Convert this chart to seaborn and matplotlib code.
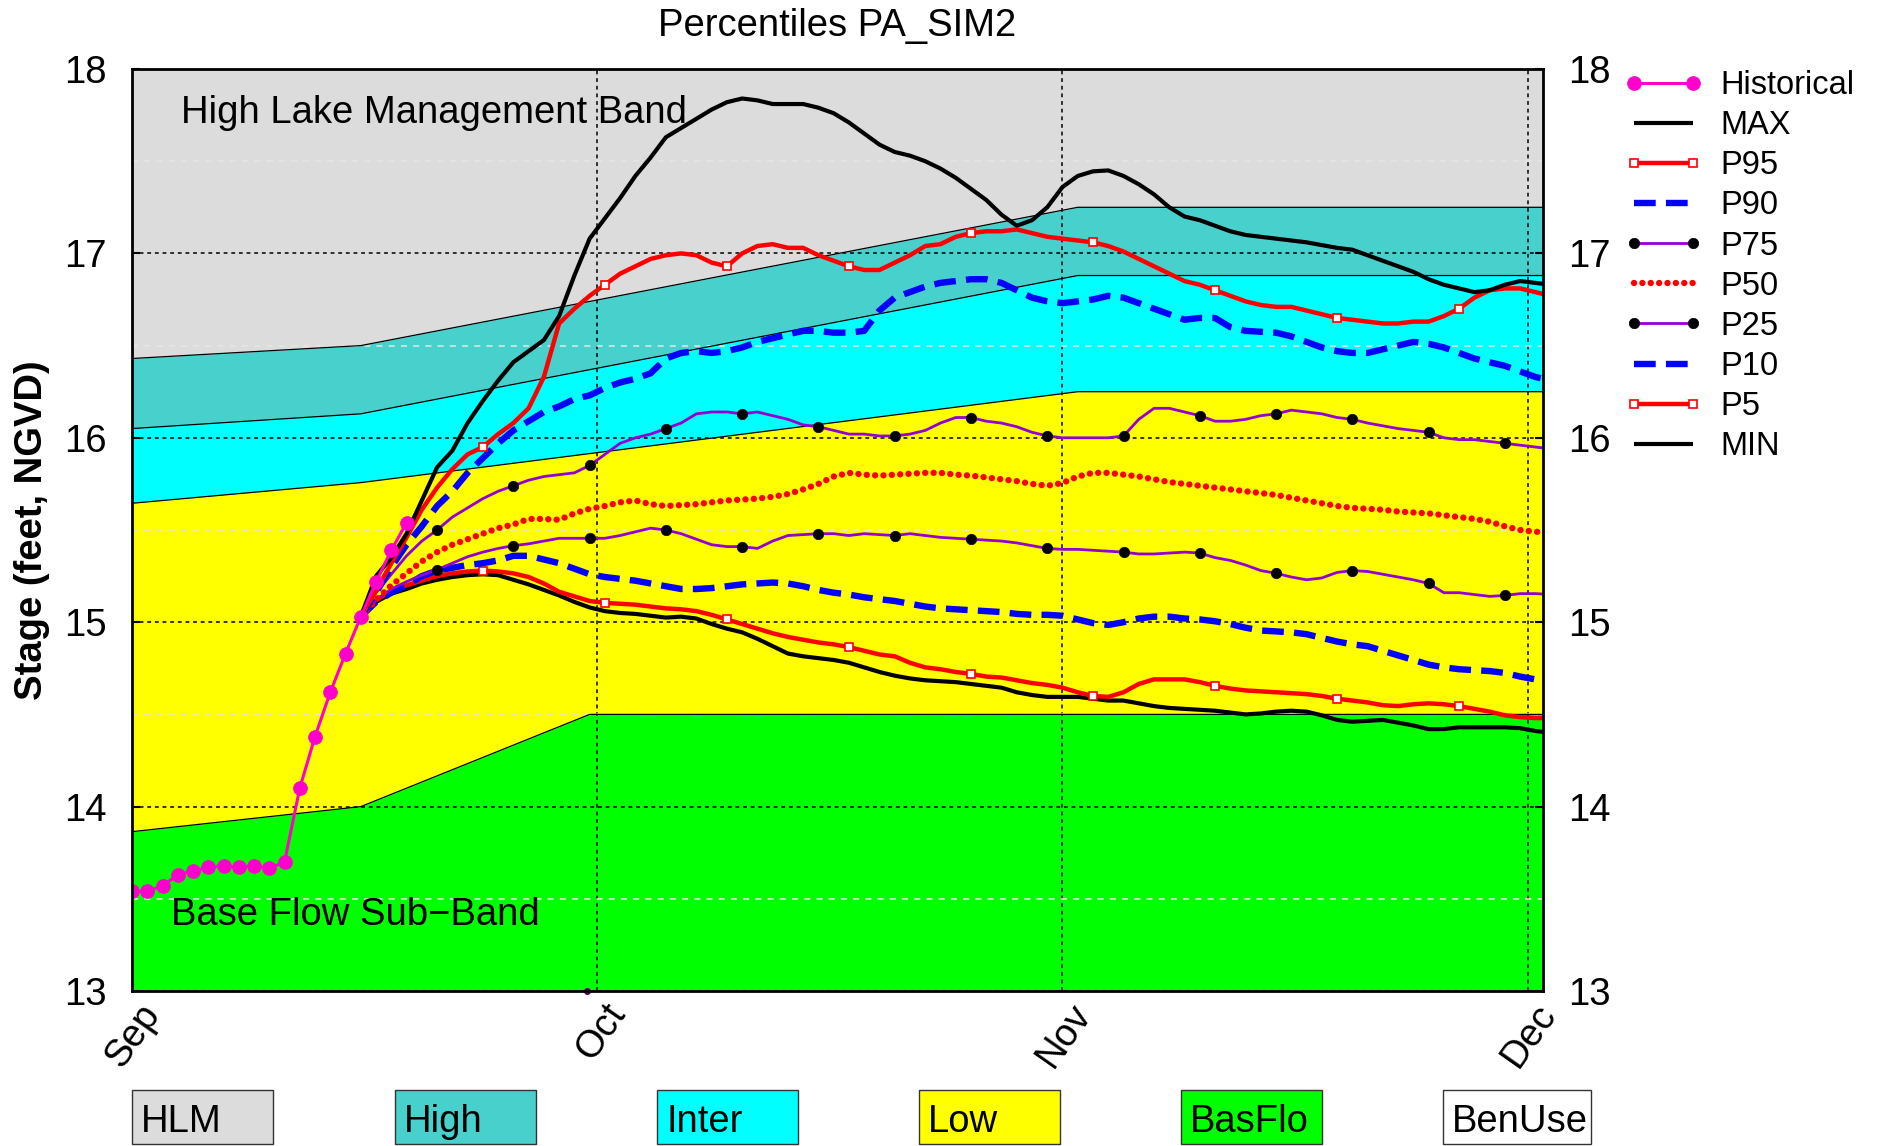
import numpy as np
import matplotlib
matplotlib.use("Agg")
import matplotlib.pyplot as plt
import matplotlib.transforms as mtransforms
from matplotlib.lines import Line2D
from matplotlib.patches import Rectangle
import seaborn as sns

# ---------------- data ----------------
month_ticks = [0, 30.5, 61, 91.5]
month_labels = ["Sep", "Oct", "Nov", "Dec"]
y_ticks = [13, 14, 15, 16, 17, 18]
y_minor = [13.5, 14.5, 15.5, 16.5, 17.5]

hist_days = list(range(0, 19))
hist_vals = [13.54, 13.54, 13.57, 13.63, 13.65, 13.67, 13.68, 13.67, 13.68, 13.665,
             13.70, 14.10, 14.38, 14.62, 14.83, 15.03, 15.22, 15.39, 15.54]

pct_days = list(range(15, 94))
p_max = [15.03, 15.25, 15.35, 15.48, 15.66, 15.84, 15.93, 16.08, 16.20, 16.31,
         16.41, 16.47, 16.53, 16.66, 16.88, 17.08, 17.19, 17.30, 17.42, 17.52,
         17.63, 17.68, 17.73, 17.78, 17.82, 17.84, 17.83, 17.81, 17.81, 17.81,
         17.79, 17.76, 17.71, 17.65, 17.59, 17.55, 17.53, 17.50, 17.46, 17.41,
         17.35, 17.29, 17.21, 17.15, 17.18, 17.25, 17.36, 17.42, 17.445, 17.45,
         17.42, 17.375, 17.32, 17.25, 17.20, 17.18, 17.15, 17.12, 17.10, 17.09,
         17.08, 17.07, 17.06, 17.045, 17.03, 17.02, 16.99, 16.96, 16.93, 16.90,
         16.86, 16.83, 16.81, 16.79, 16.80, 16.83, 16.85, 16.84, 16.83]
p95 = [15.03, 15.17, 15.32, 15.46, 15.61, 15.73, 15.83, 15.91, 15.95, 16.02,
       16.08, 16.16, 16.33, 16.62, 16.70, 16.77, 16.83, 16.89, 16.93, 16.97,
       16.99, 17.00, 16.99, 16.95, 16.93, 17.00, 17.04, 17.05, 17.03, 17.03,
       16.99, 16.96, 16.93, 16.91, 16.91, 16.95, 16.99, 17.04, 17.05, 17.09,
       17.11, 17.12, 17.12, 17.13, 17.11, 17.09, 17.08, 17.07, 17.06, 17.04,
       17.01, 16.97, 16.93, 16.89, 16.85, 16.83, 16.80, 16.77, 16.74, 16.72,
       16.71, 16.71, 16.69, 16.67, 16.65, 16.64, 16.63, 16.62, 16.62, 16.63,
       16.63, 16.66, 16.70, 16.76, 16.80, 16.81, 16.81, 16.79, 16.77]
p90 = [15.03, 15.16, 15.30, 15.42, 15.52, 15.63, 15.71, 15.81, 15.89, 15.97,
       16.04, 16.09, 16.14, 16.17, 16.21, 16.23, 16.27, 16.30, 16.32, 16.35,
       16.43, 16.46, 16.47, 16.46, 16.47, 16.49, 16.52, 16.54, 16.56, 16.58,
       16.58, 16.57, 16.57, 16.58, 16.69, 16.76, 16.79, 16.82, 16.84, 16.85,
       16.86, 16.86, 16.84, 16.80, 16.76, 16.74, 16.73, 16.74, 16.75, 16.77,
       16.76, 16.73, 16.70, 16.67, 16.64, 16.65, 16.65, 16.60, 16.58, 16.575,
       16.57, 16.55, 16.52, 16.49, 16.47, 16.46, 16.46, 16.48, 16.50, 16.52,
       16.51, 16.49, 16.46, 16.43, 16.41, 16.39, 16.36, 16.33, 16.31]
p75 = [15.03, 15.16, 15.26, 15.36, 15.44, 15.50, 15.57, 15.62, 15.67, 15.71,
       15.74, 15.77, 15.79, 15.80, 15.81, 15.85, 15.91, 15.97, 16.00, 16.02,
       16.05, 16.08, 16.13, 16.14, 16.14, 16.13, 16.14, 16.12, 16.10, 16.07,
       16.06, 16.04, 16.02, 16.02, 16.01, 16.01, 16.02, 16.04, 16.08, 16.11,
       16.11, 16.09, 16.08, 16.06, 16.03, 16.01, 16.00, 16.00, 16.00, 16.00,
       16.01, 16.10, 16.16, 16.16, 16.14, 16.12, 16.09, 16.09, 16.10, 16.12,
       16.13, 16.15, 16.14, 16.13, 16.11, 16.10, 16.08, 16.065, 16.05, 16.04,
       16.03, 16.00, 15.99, 15.99, 15.98, 15.97, 15.96, 15.95, 15.94]
p50 = [15.03, 15.12, 15.20, 15.265, 15.33, 15.38, 15.42, 15.45, 15.48, 15.51,
       15.53, 15.56, 15.56, 15.555, 15.59, 15.615, 15.63, 15.65, 15.66, 15.64,
       15.63, 15.635, 15.64, 15.65, 15.66, 15.665, 15.67, 15.68, 15.695, 15.72,
       15.75, 15.79, 15.81, 15.80, 15.795, 15.80, 15.805, 15.81, 15.81, 15.80,
       15.795, 15.785, 15.775, 15.765, 15.75, 15.74, 15.755, 15.79, 15.81, 15.81,
       15.80, 15.79, 15.775, 15.76, 15.75, 15.74, 15.73, 15.72, 15.71, 15.70,
       15.69, 15.675, 15.66, 15.645, 15.63, 15.62, 15.615, 15.61, 15.60, 15.595,
       15.59, 15.58, 15.57, 15.56, 15.545, 15.52, 15.50, 15.49, 15.49]
p25 = [15.03, 15.12, 15.18, 15.22, 15.255, 15.285, 15.32, 15.355, 15.38, 15.40,
       15.415, 15.425, 15.44, 15.455, 15.455, 15.455, 15.455, 15.47, 15.49, 15.51,
       15.50, 15.48, 15.45, 15.42, 15.41, 15.41, 15.40, 15.44, 15.47, 15.475,
       15.48, 15.48, 15.47, 15.48, 15.475, 15.47, 15.48, 15.47, 15.46, 15.455,
       15.45, 15.445, 15.44, 15.43, 15.415, 15.40, 15.395, 15.395, 15.39, 15.385,
       15.38, 15.37, 15.37, 15.375, 15.38, 15.375, 15.35, 15.335, 15.31, 15.28,
       15.265, 15.245, 15.23, 15.24, 15.27, 15.28, 15.275, 15.26, 15.245, 15.23,
       15.21, 15.16, 15.16, 15.15, 15.14, 15.145, 15.155, 15.155, 15.15]
p10 = [15.03, 15.11, 15.16, 15.20, 15.25, 15.28, 15.295, 15.31, 15.32, 15.335,
       15.36, 15.36, 15.34, 15.32, 15.29, 15.26, 15.245, 15.235, 15.225, 15.21,
       15.195, 15.18, 15.18, 15.185, 15.195, 15.205, 15.21, 15.215, 15.21, 15.195,
       15.175, 15.16, 15.15, 15.135, 15.125, 15.115, 15.10, 15.085, 15.075, 15.07,
       15.065, 15.06, 15.055, 15.045, 15.04, 15.04, 15.035, 15.015, 14.995, 14.985,
       15.00, 15.02, 15.03, 15.03, 15.02, 15.015, 15.005, 14.99, 14.97, 14.955,
       14.95, 14.945, 14.935, 14.915, 14.895, 14.88, 14.87, 14.845, 14.82, 14.795,
       14.77, 14.755, 14.745, 14.74, 14.735, 14.725, 14.705, 14.69, 14.68]
p5 = [15.03, 15.12, 15.17, 15.20, 15.225, 15.25, 15.265, 15.275, 15.28, 15.275,
      15.265, 15.245, 15.21, 15.165, 15.14, 15.115, 15.105, 15.10, 15.095, 15.085,
      15.075, 15.07, 15.06, 15.04, 15.015, 14.99, 14.965, 14.94, 14.92, 14.905,
      14.89, 14.88, 14.865, 14.845, 14.825, 14.815, 14.78, 14.755, 14.745, 14.73,
      14.72, 14.705, 14.70, 14.685, 14.67, 14.66, 14.645, 14.62, 14.60, 14.595,
      14.62, 14.665, 14.69, 14.69, 14.69, 14.675, 14.655, 14.64, 14.63, 14.625,
      14.62, 14.615, 14.61, 14.60, 14.585, 14.575, 14.565, 14.55, 14.545, 14.555,
      14.56, 14.555, 14.545, 14.53, 14.515, 14.495, 14.485, 14.48, 14.48]
p_min = [15.03, 15.11, 15.155, 15.18, 15.21, 15.23, 15.245, 15.255, 15.26, 15.255,
         15.23, 15.205, 15.175, 15.145, 15.11, 15.08, 15.06, 15.05, 15.045, 15.035,
         15.025, 15.03, 15.02, 14.99, 14.965, 14.945, 14.91, 14.87, 14.83, 14.815,
         14.805, 14.795, 14.78, 14.755, 14.73, 14.71, 14.695, 14.685, 14.68, 14.675,
         14.665, 14.655, 14.645, 14.62, 14.605, 14.595, 14.595, 14.595, 14.585, 14.575,
         14.575, 14.56, 14.545, 14.535, 14.53, 14.525, 14.52, 14.51, 14.50, 14.505,
         14.515, 14.52, 14.515, 14.495, 14.47, 14.46, 14.465, 14.47, 14.455, 14.44,
         14.42, 14.42, 14.43, 14.43, 14.43, 14.43, 14.425, 14.41, 14.40]

stray_day = [29.8]
stray_val = [13.0]

# management band boundaries (lower edge of each band)
hlm_days, hlm_low = [0, 15, 62, 93], [16.43, 16.50, 17.25, 17.25]
high_days, high_low = [0, 15, 62, 93], [16.05, 16.13, 16.88, 16.88]
inter_days, inter_low = [0, 15, 62, 93], [15.645, 15.757, 16.25, 16.25]
low_days, low_low = [0, 15, 30, 93], [13.864, 14.0, 14.5, 14.5]

band_names = ["HLM", "High", "Inter", "Low", "BasFlo", "BenUse"]
band_colors = ["#dcdcdc", "#48d1cc", "#00ffff", "#ffff00", "#00ff00", "#ffffff"]

legend_labels = ["Historical", "MAX", "P95", "P90", "P75", "P50", "P25", "P10", "P5", "MIN"]

# ---------------- figure ----------------
plt.rcParams["font.family"] = ["Liberation Sans", "DejaVu Sans"]
FS = 27.5
W, H = 1877, 1146
fig = plt.figure(figsize=(W / 100, H / 100), dpi=100)
ax = fig.add_axes([132 / W, (H - 991) / H, 1411 / W, 922 / H])
ax.set_xlim(0, 92.5)
ax.set_ylim(13, 18)

# bands
xk = sorted(set(hlm_days + high_days + inter_days + low_days))
b_hlm = np.interp(xk, hlm_days, hlm_low)
b_high = np.interp(xk, high_days, high_low)
b_inter = np.interp(xk, inter_days, inter_low)
b_low = np.interp(xk, low_days, low_low)
ax.fill_between(xk, b_hlm, 18, color=band_colors[0], lw=0, zorder=0.5)
ax.fill_between(xk, b_high, b_hlm, color=band_colors[1], lw=0, zorder=0.5)
ax.fill_between(xk, b_inter, b_high, color=band_colors[2], lw=0, zorder=0.5)
ax.fill_between(xk, b_low, b_inter, color=band_colors[3], lw=0, zorder=0.5)
ax.fill_between(xk, 13, b_low, color=band_colors[4], lw=0, zorder=0.5)
for dd, vv in [(hlm_days, hlm_low), (high_days, high_low), (inter_days, inter_low), (low_days, low_low)]:
    ax.plot(dd, vv, color="black", lw=0.9, zorder=1.6)

# grid
ax.set_xticks(month_ticks)
ax.set_yticks(y_ticks)
ax.set_yticks(y_minor, minor=True)
ax.set_axisbelow("line")
ax.grid(which="major", axis="both", color="black", linestyle=(0, (2.5, 2.5)), lw=1.1)
ax.grid(which="minor", axis="y", color="#e6e6e6", linestyle=(0, (4, 4)), lw=1.1)


def draw(days, vals, **kw):
    sns.lineplot(x=days, y=vals, ax=ax, sort=False, estimator=None, errorbar=None,
                 legend=False, **kw)


purple = "#9400d3"
red = "#ff0000"
blue = "#0000ff"
magenta = "#ff00cc"

style_max = dict(color="black", linewidth=3.0, solid_capstyle="butt")
style_p95 = dict(color=red, linewidth=3.2, marker="s", markersize=6, markerfacecolor="white",
                 markeredgecolor=red, markeredgewidth=1.2)
style_p90 = dict(color=blue, linewidth=4.6, linestyle=(0, (3.4, 1.6)))
style_p75 = dict(color=purple, linewidth=2.0, marker="o", markersize=7.5, markerfacecolor="black",
                 markeredgecolor="black", markeredgewidth=0.5)
style_p50 = dict(color=red, linewidth=4.6, linestyle=(0, (0.01, 1.3)), dash_capstyle="round")
style_hist = dict(color=magenta, linewidth=2.2, marker="o", markersize=10,
                  markerfacecolor=magenta, markeredgecolor=magenta, markeredgewidth=0.5)

draw(pct_days, p_min, zorder=3.0, **style_max)
draw(pct_days, p5, zorder=3.1, markevery=(8, 8), **style_p95)
draw(pct_days, p10, zorder=3.2, **style_p90)
draw(pct_days, p25, zorder=3.3, markevery=(5, 5), **style_p75)
draw(pct_days, p50, zorder=3.4, **style_p50)
draw(pct_days, p75, zorder=3.5, markevery=(5, 5), **style_p75)
draw(pct_days, p90, zorder=3.6, **style_p90)
draw(pct_days, p95, zorder=3.7, markevery=(8, 8), **style_p95)
draw(pct_days, p_max, zorder=3.8, **style_max)
draw(hist_days, hist_vals, zorder=4.0, **style_hist)
ax.plot(stray_day, stray_val, "o", color="#5a0050", markersize=4, clip_on=False, zorder=5)

# annotations
ax.text(0.0347, 0.9414, "High Lake Management Band", transform=ax.transAxes, fontsize=FS,
        ha="left", va="baseline", zorder=6)
ax.text(0.0276, 0.0716, "Base Flow Sub\u2212Band", transform=ax.transAxes, fontsize=FS,
        ha="left", va="baseline", zorder=6)

# axes cosmetics
for s in ax.spines.values():
    s.set_linewidth(2.0)
    s.set_zorder(10)
ax.set_xticklabels(month_labels, rotation=55, ha="right", va="center", rotation_mode="anchor",
                   fontsize=FS)
ax.tick_params(axis="x", which="both", length=0, pad=12)
shift = mtransforms.ScaledTranslation(0.21, 0, fig.dpi_scale_trans)
for lab in ax.get_xticklabels():
    lab.set_transform(lab.get_transform() + shift)
ax.tick_params(axis="y", which="major", direction="in", length=6, width=1.5, labelsize=FS, pad=18)
ax.tick_params(axis="y", which="minor", length=0)
ax.set_xlabel("")
ax.set_ylabel("Stage (feet, NGVD)", fontsize=FS, fontweight="bold")
ax.yaxis.set_label_coords(-0.058, 0.5)

ax2 = ax.twinx()
ax2.set_ylim(13, 18)
ax2.set_yticks(y_ticks)
ax2.tick_params(axis="y", direction="in", length=6, width=1.5, labelsize=FS, pad=18)
for s in ax2.spines.values():
    s.set_visible(False)

# title
fig.text(837 / W, 1 - 36 / H, "Percentiles PA_SIM2", ha="center", va="baseline", fontsize=FS)

# legend
handles = [
    Line2D([], [], **style_hist),
    Line2D([], [], **style_max),
    Line2D([], [], **style_p95),
    Line2D([], [], **style_p90),
    Line2D([], [], **style_p75),
    Line2D([], [], **style_p50),
    Line2D([], [], **style_p75),
    Line2D([], [], **style_p90),
    Line2D([], [], **style_p95),
    Line2D([], [], **style_max),
]
fig.legend(handles, legend_labels, loc="upper left", bbox_to_anchor=(1624 / W, 1 - 70 / H),
           frameon=False, fontsize=23.5, numpoints=2, handlelength=2.4, handletextpad=0.55,
           labelspacing=0.28, borderpad=0, borderaxespad=0)

# band key boxes
box_x = [132, 395, 657, 919, 1181, 1443]
box_w = [141, 141, 141, 141, 141, 148]
for name, col, x0, bw in zip(band_names, band_colors, box_x, box_w):
    fig.patches.append(Rectangle((x0 / W, 2 / H), bw / W, 54 / H, transform=fig.transFigure,
                                 facecolor=col, edgecolor="#333333", lw=1.0, figure=fig))
    fig.text((x0 + 9) / W, (H - 1132) / H, name, ha="left", va="baseline", fontsize=FS)

fig.savefig("out.png", dpi=100)
